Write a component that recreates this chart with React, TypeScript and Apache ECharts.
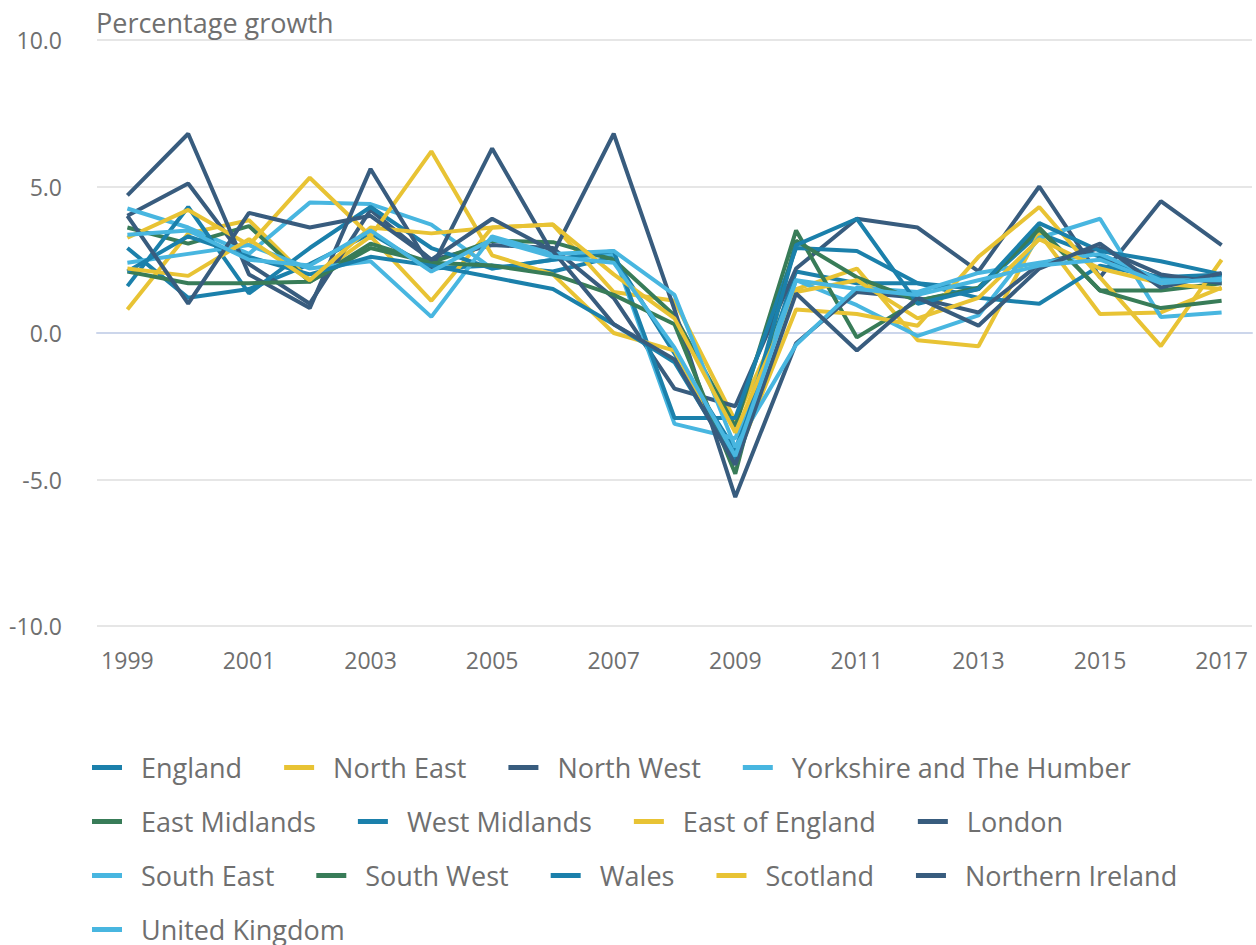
import React, { useEffect, useRef } from "react";
import * as echarts from "echarts";

const years = ["1999","2000","2001","2002","2003","2004","2005","2006","2007","2008","2009","2010","2011","2012","2013","2014","2015","2016","2017"];

const england = [2.9, 1.2, 1.5, 2.35, 3.4, 2.2, 2.3, 2.1, 2.6, -0.7, -4.0, 2.1, 1.7, 1.7, 1.5, 3.4, 2.6, 1.85, 1.95];
const northEast = [0.8, 3.4, 3.85, 1.8, 3.3, 1.1, 3.6, 3.7, 1.4, 1.1, -3.0, 1.5, 2.2, -0.25, -0.45, 3.4, 0.65, 0.7, 1.55];
const northWest = [4.0, 5.1, 2.35, 1.0, 4.2, 2.5, 3.0, 2.9, 1.2, -1.9, -2.5, 2.2, 3.9, 3.6, 2.1, 5.0, 1.9, 4.5, 3.0];
const yorkshire = [4.25, 3.6, 2.7, 4.45, 4.4, 3.7, 2.2, 2.5, 2.7, -3.1, -3.6, 1.8, 0.95, -0.1, 0.6, 3.25, 3.9, 0.55, 0.7];
const eastMidlands = [3.6, 3.05, 3.65, 1.75, 3.05, 2.4, 3.15, 3.1, 2.5, 0.6, -3.2, 3.5, -0.15, 1.1, 1.55, 3.6, 1.45, 1.45, 1.7];
const westMidlands = [1.6, 4.3, 1.35, 2.9, 4.3, 2.9, 2.2, 2.5, 2.8, -2.9, -2.9, 2.9, 2.8, 1.7, 1.2, 1.0, 2.3, 1.9, 2.0];
const eastOfEngland = [3.25, 4.2, 3.0, 5.3, 3.3, 6.2, 2.65, 2.0, 0.0, -0.6, -4.35, 0.8, 0.65, 0.25, 2.6, 4.3, 1.9, -0.45, 2.5];
const london = [4.7, 6.8, 2.0, 0.85, 5.6, 2.2, 6.3, 2.7, 6.8, 0.8, -5.6, -0.35, 1.4, 1.2, 0.7, 2.35, 2.9, 2.0, 1.7];
const southEast = [2.4, 2.7, 3.0, 2.2, 2.45, 0.55, 3.3, 2.7, 2.8, 1.3, -3.9, -0.4, 1.55, 1.4, 2.05, 2.4, 2.7, 1.8, 1.8];
const southWest = [2.1, 1.7, 1.7, 1.75, 2.9, 2.4, 2.3, 2.0, 1.3, 0.3, -4.8, 3.15, 1.9, 1.1, 1.5, 3.55, 1.45, 0.85, 1.1];
const wales = [2.1, 3.3, 2.6, 2.0, 2.6, 2.3, 1.9, 1.5, 0.3, -1.0, -4.4, 3.0, 3.9, 1.0, 1.5, 3.75, 2.8, 2.45, 2.0];
const scotland = [2.2, 1.95, 3.2, 1.8, 3.6, 3.4, 3.6, 3.7, 2.0, 0.5, -3.4, 1.4, 1.8, 0.5, 1.2, 3.2, 2.2, 1.7, 1.5];
const northernIreland = [4.0, 1.0, 4.1, 3.6, 4.0, 2.5, 3.9, 2.8, 0.3, -0.9, -4.5, 1.35, -0.6, 1.2, 0.25, 2.2, 3.05, 1.55, 2.05];
const unitedKingdom = [3.35, 3.5, 2.5, 2.3, 3.5, 2.1, 3.2, 2.6, 2.4, -0.5, -4.2, 1.8, 1.5, 1.3, 1.8, 2.3, 2.5, 1.7, 1.85];

const BLUE = "#1b80ab";
const YELLOW = "#e8c334";
const NAVY = "#385c7e";
const LIGHT = "#48b6e0";
const GREEN = "#387c58";

const seriesDefs: [string, number[], string][] = [
  ["England", england, BLUE],
  ["North East", northEast, YELLOW],
  ["North West", northWest, NAVY],
  ["Yorkshire and The Humber", yorkshire, LIGHT],
  ["East Midlands", eastMidlands, GREEN],
  ["West Midlands", westMidlands, BLUE],
  ["East of England", eastOfEngland, YELLOW],
  ["London", london, NAVY],
  ["South East", southEast, LIGHT],
  ["South West", southWest, GREEN],
  ["Wales", wales, BLUE],
  ["Scotland", scotland, YELLOW],
  ["Northern Ireland", northernIreland, NAVY],
  ["United Kingdom", unitedKingdom, LIGHT],
];

const FONT = "'Open Sans', sans-serif";
const TEXT = "#6f6f6f";

export default function App() {
  const ref = useRef<HTMLDivElement>(null);
  useEffect(() => {
    if (!ref.current) return;
    const chart = echarts.init(ref.current, undefined, { renderer: "svg" });
    chart.setOption({
      animation: false,
      textStyle: { fontFamily: FONT },
      title: {
        text: "Percentage growth",
        left: 96,
        top: 7,
        padding: 0,
        textStyle: { fontFamily: FONT, fontSize: 27, fontWeight: "normal", color: TEXT, lineHeight: 30 },
      },
      grid: { left: 97, right: 4, top: 40, bottom: 945 - 626, containLabel: false },
      xAxis: {
        type: "category",
        data: years,
        boundaryGap: true,
        axisLine: { lineStyle: { color: "#ccd6eb", width: 2 } },
        axisTick: { alignWithLabel: true, interval: 1, length: 20, lineStyle: { color: "#ccd6eb", width: 2 } },
        axisLabel: { interval: 1, margin: 22, fontSize: 23, color: TEXT, fontFamily: FONT },
        splitLine: { show: false },
      },
      yAxis: {
        type: "value",
        min: -10,
        max: 10,
        interval: 5,
        axisLine: { show: false },
        axisTick: { show: false },
        axisLabel: { margin: 35, fontSize: 23, color: TEXT, fontFamily: FONT, formatter: (v: number) => v.toFixed(1) },
        splitLine: { lineStyle: { color: "#e6e6e6", width: 2 } },
      },
      legend: {
        left: 92,
        right: 6,
        top: 754,
        padding: 0,
        icon: "rect",
        itemWidth: 30,
        itemHeight: 5,
        itemGap: 27,
        textStyle: { fontFamily: FONT, fontSize: 27, color: TEXT, lineHeight: 27, padding: [0, 15, 0, 14] },
        data: seriesDefs.map((s) => s[0]),
      },
      series: seriesDefs.map(([name, data, color]) => ({
        name,
        type: "line",
        data,
        symbol: "none",
        color,
        lineStyle: { color, width: 4 },
        emphasis: { disabled: true },
      })),
    });
    return () => chart.dispose();
  }, []);
  return <div ref={ref} style={{ width: 1256, height: 945, position: "absolute", left: 0, top: 0 }} />;
}
